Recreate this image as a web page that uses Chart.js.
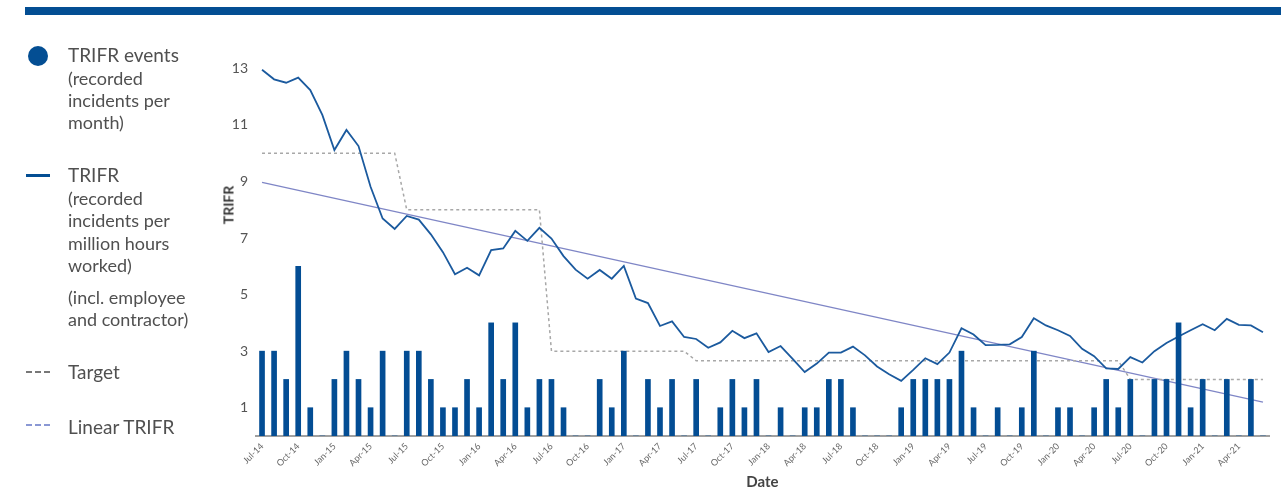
<!DOCTYPE html>
<html>
<head>
<meta charset="utf-8">
<script src="https://cdn.jsdelivr.net/npm/chart.js@4.4.0/dist/chart.umd.min.js"></script>
<style>
  html, body { margin: 0; padding: 0; background: #fff; }
  body { width: 1281px; height: 493px; position: relative; overflow: hidden; font-family: Lato, "Noto Sans", sans-serif; }
  #topbar { position: absolute; left: 25px; top: 7px; width: 1256px; height: 8px; background: #034e93; }
  #wrap { position: absolute; left: 0; top: 0; width: 1281px; height: 493px; }
  .lg { position: absolute; left: 68px; color: #505050; white-space: nowrap; line-height: 1.2; }
  .mk { position: absolute; }
  #ytitle { position: absolute; left: 228px; top: 205px; transform: translate(-50%, -50%) rotate(-90deg);
            font: bold 14px Lato, sans-serif; color: #333; white-space: nowrap; }
</style>
</head>
<body>
<div id="topbar"></div>
<div id="wrap"><canvas id="trifrChart" width="1281" height="493"></canvas></div>
<div id="legend"></div>
<div id="ytitle">TRIFR</div>
<script>
// monthly categories
const months = [
  'Jul-14','Aug-14','Sep-14','Oct-14','Nov-14','Dec-14',
  'Jan-15','Feb-15','Mar-15','Apr-15','May-15','Jun-15','Jul-15','Aug-15','Sep-15','Oct-15','Nov-15','Dec-15',
  'Jan-16','Feb-16','Mar-16','Apr-16','May-16','Jun-16','Jul-16','Aug-16','Sep-16','Oct-16','Nov-16','Dec-16',
  'Jan-17','Feb-17','Mar-17','Apr-17','May-17','Jun-17','Jul-17','Aug-17','Sep-17','Oct-17','Nov-17','Dec-17',
  'Jan-18','Feb-18','Mar-18','Apr-18','May-18','Jun-18','Jul-18','Aug-18','Sep-18','Oct-18','Nov-18','Dec-18',
  'Jan-19','Feb-19','Mar-19','Apr-19','May-19','Jun-19','Jul-19','Aug-19','Sep-19','Oct-19','Nov-19','Dec-19',
  'Jan-20','Feb-20','Mar-20','Apr-20','May-20','Jun-20','Jul-20','Aug-20','Sep-20','Oct-20','Nov-20','Dec-20',
  'Jan-21','Feb-21','Mar-21','Apr-21','May-21','Jun-21'
];

// recorded incidents per month
const trifrEvents = [
  3,3,2,6,1,0,
  2,3,2,1,3,0,3,3,2,1,1,2,
  1,4,2,4,1,2,2,1,0,0,2,1,
  3,0,2,1,2,0,2,0,1,2,1,2,
  0,1,0,1,1,2,2,1,0,0,0,1,
  2,2,2,2,3,1,0,1,0,1,3,0,
  1,1,0,1,2,1,2,0,2,2,4,1,
  2,0,2,0,2,0
];

// TRIFR (incidents per million hours worked)
const trifr = [
  12.95,12.61,12.49,12.67,12.23,11.35,
  10.11,10.82,10.25,8.81,7.69,7.32,7.78,7.65,7.13,6.50,5.72,5.95,
  5.68,6.57,6.63,7.25,6.90,7.36,6.98,6.36,5.88,5.56,5.87,5.56,
  6.01,4.86,4.70,3.89,4.05,3.50,3.43,3.12,3.31,3.72,3.46,3.63,
  2.97,3.18,2.73,2.26,2.56,2.95,2.95,3.16,2.85,2.46,2.18,1.95,
  2.34,2.75,2.54,2.95,3.81,3.59,3.21,3.22,3.24,3.50,4.16,3.91,
  3.74,3.54,3.08,2.82,2.39,2.37,2.79,2.60,3.00,3.29,3.52,3.74,
  3.95,3.74,4.14,3.93,3.91,3.67
];

// target
const target = [
  10,10,10,10,10,10,
  10,10,10,10,10,10,8,8,8,8,8,8,
  8,8,8,8,8,8,3,3,3,3,3,3,
  3,3,3,3,3,3,2.66,2.66,2.66,2.66,2.66,2.66,
  2.66,2.66,2.66,2.66,2.66,2.66,2.66,2.66,2.66,2.66,2.66,2.66,
  2.66,2.66,2.66,2.66,2.66,2.66,2.66,2.66,2.66,2.66,2.66,2.66,
  2.66,2.66,2.66,2.66,2.66,2.66,2,2,2,2,2,2,
  2,2,2,2,2,2
];

// linear TRIFR trend end points
const linearTrifr = [
  { x: 'Jul-14', y: 8.97 },
  { x: 'Jun-21', y: 1.2 }
];

const yTicks = [1, 3, 5, 7, 9, 11, 13];

// legend (html text)
const legendLines = [
  ['TRIFR events', 63, 19],
  ['(recorded', 86, 18],
  ['incidents per', 108, 18],
  ['month)', 130, 18],
  ['TRIFR', 183, 19],
  ['(recorded', 206, 18],
  ['incidents per', 228, 18],
  ['million hours', 251, 18],
  ['worked)', 273, 18],
  ['(incl. employee', 305, 18],
  ['and contractor)', 327, 18],
  ['Target', 380, 19],
  ['Linear TRIFR', 435, 19]
];

const legendEl = document.getElementById('legend');
legendLines.forEach(([text, baseline, size]) => {
  const d = document.createElement('div');
  d.className = 'lg';
  d.textContent = text;
  d.style.fontSize = size + 'px';
  d.style.top = (baseline - 0.987 * size) + 'px';
  legendEl.appendChild(d);
});
const dash = c => `repeating-linear-gradient(to right, ${c} 0 6px, transparent 6px 9px)`;
const markers = [
  'left:28px;top:46px;width:20px;height:20px;border-radius:50%;background:#034e93;',
  'left:26px;top:174px;width:24px;height:3px;background:#034e93;',
  `left:26px;top:371px;width:24px;height:2px;background:${dash('#777')};`,
  `left:26px;top:424px;width:24px;height:2px;background:${dash('#8a98d4')};`
];
markers.forEach(css => {
  const m = document.createElement('div');
  m.className = 'mk';
  m.style.cssText = css;
  legendEl.appendChild(m);
});

const ctx = document.getElementById('trifrChart').getContext('2d');

new Chart(ctx, {
  data: {
    labels: months,
    datasets: [
      {
        type: 'bar',
        label: 'TRIFR events',
        data: trifrEvents,
        backgroundColor: '#034d94',
        barThickness: 5,
        order: 0
      },
      {
        type: 'line',
        label: 'TRIFR',
        data: trifr,
        borderColor: '#1b5a9e',
        borderWidth: 1.8,
        pointRadius: 0,
        tension: 0,
        fill: false,
        order: 1
      },
      {
        type: 'line',
        label: 'Target',
        data: target,
        borderColor: '#a8a8a8',
        borderWidth: 1.5,
        borderDash: [3, 3],
        pointRadius: 0,
        tension: 0,
        fill: false,
        order: 2
      },
      {
        type: 'line',
        label: 'Linear TRIFR',
        data: linearTrifr,
        borderColor: '#7f86c6',
        borderWidth: 1.3,
        pointRadius: 0,
        fill: false,
        order: 3
      }
    ]
  },
  options: {
    responsive: false,
    animation: false,
    layout: { padding: { left: 200, right: 12, top: 40, bottom: 0 } },
    plugins: { legend: { display: false }, tooltip: { enabled: false } },
    scales: {
      x: {
        type: 'category',
        offset: true,
        grid: { display: false, drawTicks: false },
        border: { display: true, color: '#a0a0a0', width: 2 },
        ticks: {
          autoSkip: false,
          maxRotation: 45,
          minRotation: 45,
          padding: 5,
          color: '#666',
          font: { family: 'Lato', size: 9 },
          callback: (v, i) => (i % 3 === 0 ? months[i] : '')
        },
        title: {
          display: true,
          text: 'Date',
          color: '#444',
          font: { family: 'Lato', size: 15, weight: 'bold' },
          padding: { top: 0, bottom: 2 }
        },
        afterFit: (scale) => { scale.height = 57; }
      },
      y: {
        min: 0,
        max: 14,
        grid: { display: false, drawTicks: false },
        border: { display: false },
        ticks: {
          padding: 8,
          color: '#555',
          font: { family: 'Lato', size: 14 }
        },
        afterBuildTicks: (axis) => { axis.ticks = yTicks.map(v => ({ value: v })); },
        afterFit: (scale) => { scale.width = 56; }
      }
    }
  }
});
</script>
</body>
</html>
